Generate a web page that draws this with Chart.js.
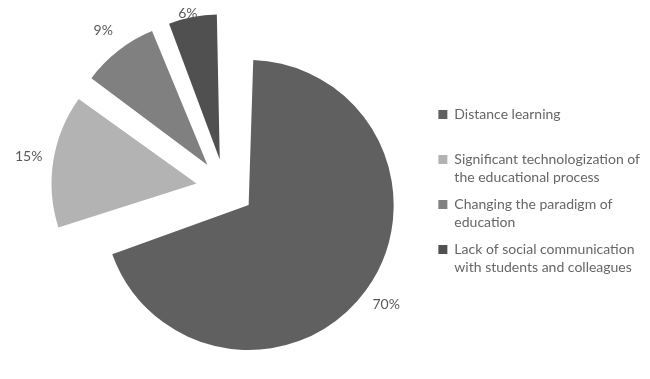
<!DOCTYPE html>
<html>
<head>
<meta charset="utf-8">
<script src="https://cdn.jsdelivr.net/npm/chart.js@4.4.1/dist/chart.umd.min.js"></script>
<style>
  html, body { margin: 0; padding: 0; background: #ffffff; }
  #wrap { position: relative; width: 650px; height: 379px; }
</style>
</head>
<body>
<div id="wrap"><canvas id="c"></canvas></div>
<script>
// ---- data ----
const categories = [
  "Distance learning",
  "Significant technologization of the educational process",
  "Changing the paradigm of education",
  "Lack of social communication with students and colleagues"
];
const legendLines = [
  ["Distance learning"],
  ["Significant technologization of", "the educational process"],
  ["Changing the paradigm of", "education"],
  ["Lack of social communication", "with students and colleagues"]
];
const values = [70, 15, 9, 6];
const valueLabels = ["70%", "15%", "9%", "6%"];
const sliceColors = ["#606060", "#b3b3b3", "#808080", "#505050"];

// ---- geometry / style settings ----
const PIE_RADIUS = 145;
const EXPLODE = 29;
const LABEL_GAP = 25;
const TEXT_COLOR = "#595959";
const FONT_FAMILY = "Lato, 'Open Sans', sans-serif";

// keep the exploded slices at equal drawn radius (Chart.js grows arc radius with offset)
const radiusFix = {
  id: 'radiusFix',
  afterDatasetUpdate(chart, args) {
    args.meta.data.forEach(arc => {
      const c = arc.circumference;
      const fix = 1 - Math.sin(Math.min(Math.PI, c || 0));
      arc.outerRadius = PIE_RADIUS - EXPLODE * fix;
    });
  }
};

// outside percentage labels
const pctLabels = {
  id: 'pctLabels',
  afterDatasetsDraw(chart) {
    const meta = chart.getDatasetMeta(0);
    const ctx = chart.ctx;
    ctx.save();
    ctx.font = "14px " + FONT_FAMILY;
    ctx.fillStyle = TEXT_COLOR;
    ctx.textAlign = 'center';
    ctx.textBaseline = 'middle';
    meta.data.forEach((arc, i) => {
      const mid = (arc.startAngle + arc.endAngle) / 2;
      const d = EXPLODE + PIE_RADIUS + LABEL_GAP;
      const lx = arc.x + Math.cos(mid) * d;
      let ly = arc.y + Math.sin(mid) * d;
      ly = Math.max(ly, 13);
      ctx.fillText(valueLabels[i], lx, ly);
    });
    ctx.restore();
  }
};

new Chart(document.getElementById('c'), {
  type: 'pie',
  data: {
    labels: categories,
    datasets: [{
      data: values,
      backgroundColor: sliceColors,
      borderWidth: 0,
      offset: EXPLODE * 4,
      hoverOffset: EXPLODE * 4
    }]
  },
  options: {
    responsive: true,
    maintainAspectRatio: false,
    animation: false,
    radius: PIE_RADIUS,
    layout: { padding: { left: 21, right: 0, top: 0, bottom: 3 } },
    plugins: {
      tooltip: { enabled: false },
      legend: {
        position: 'right',
        title: { display: true, text: '', font: { size: 1, lineHeight: 1 }, padding: { top: 9, bottom: 0 } },
        labels: {
          boxWidth: 9,
          boxHeight: 9,
          padding: 9,
          color: TEXT_COLOR,
          font: { family: FONT_FAMILY, size: 14, lineHeight: 18 / 14 },
          generateLabels(chart) {
            const ds = chart.data.datasets[0];
            return legendLines.map((lines, i) => ({
              text: lines.length < 2 ? [lines[0], ""] : lines,
              fillStyle: ds.backgroundColor[i],
              strokeStyle: ds.backgroundColor[i],
              lineWidth: 0,
              hidden: false,
              index: i
            }));
          }
        }
      }
    }
  },
  plugins: [radiusFix, pctLabels]
});
</script>
</body>
</html>
